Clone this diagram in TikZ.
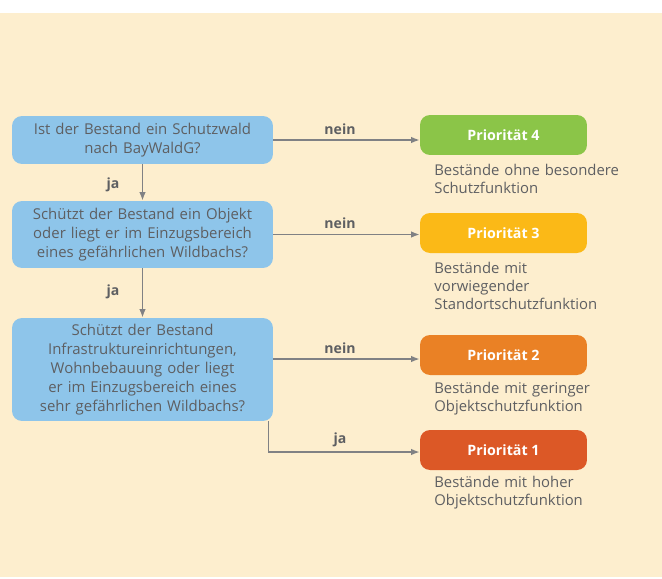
\documentclass[tikz,border=0pt]{standalone}
\usepackage{fontspec}
\setmainfont{Open Sans}
\usetikzlibrary{arrows.meta}
\definecolor{cream}{RGB}{253,238,206}
\definecolor{qblue}{RGB}{142,197,234}
\definecolor{txtgray}{RGB}{94,95,98}
\definecolor{lngray}{RGB}{128,129,132}
\definecolor{prio4}{RGB}{139,197,72}
\definecolor{prio3}{RGB}{251,185,23}
\definecolor{prio2}{RGB}{234,129,37}
\definecolor{prio1}{RGB}{220,88,38}
\tikzset{
  question/.style={fill=qblue, rounded corners=0.2cm, minimum width=5.22cm,
    text width=5cm, align=center, inner sep=0pt, text=txtgray,
    font=\fontsize{8.5}{10.8}\selectfont},
  prio/.style={rounded corners=0.2cm, minimum width=3.34cm, minimum height=0.8cm,
    inner sep=0pt, text=white, font=\fontsize{8.1}{10}\selectfont\bfseries},
  desc/.style={anchor=north west, inner sep=0pt, text width=3.8cm, align=left,
    text=txtgray, font=\fontsize{8.45}{10.3}\selectfont},
  lbl/.style={text=txtgray, font=\fontsize{8}{10}\selectfont\bfseries},
  arr/.style={draw=lngray, line width=0.85pt, -{Latex[length=1.7mm,width=1.3mm]}}
}
\begin{document}
\begin{tikzpicture}[x=0.02cm, y=-0.02cm]
  \fill[white] (0,0) rectangle (662,578);
  \fill[cream] (0,13) rectangle (662,577);

  \node[question, minimum height=0.96cm] (q1) at (142.5,140)
    {Ist der Bestand ein Schutzwald\\nach BayWaldG?};
  \node[question, minimum height=1.34cm] (q2) at (142.5,234.5)
    {Schützt der Bestand ein Objekt\\oder liegt er im Einzugsbereich\\eines gefährlichen Wildbachs?};
  \node[question, minimum height=2.06cm] (q3) at (142.5,369.5)
    {Schützt der Bestand\\Infrastruktureinrichtungen,\\Wohnbebauung oder liegt\\er im Einzugsbereich eines\\sehr gefährlichen Wildbachs?};

  \node[prio, fill=prio4] (p4) at (503.5,135) {Priorität 4};
  \node[prio, fill=prio3] (p3) at (503.5,233) {Priorität 3};
  \node[prio, fill=prio2] (p2) at (503.5,355) {Priorität 2};
  \node[prio, fill=prio1] (p1) at (503.5,450) {Priorität 1};

  \node[desc] (d4) at (434,164) {Bestände ohne besondere\\Schutzfunktion};
  \node[desc] (d3) at (434,262) {Bestände mit\\vorwiegender\\Standortschutzfunktion};
  \node[desc] (d2) at (434,382) {Bestände mit geringer\\Objektschutzfunktion};
  \node[desc] (d1) at (434,476) {Bestände mit hoher\\Objektschutzfunktion};

  \draw[arr] (q1) -- (q2);
  \draw[arr] (q2) -- (q3);
  \node[lbl] (ja1) at (113,185) {ja};
  \node[lbl] (ja2) at (113,292) {ja};

  \draw[arr] (q1.east) -- (q1.east -| p4.west);
  \draw[arr] (q2.east) -- (q2.east -| p3.west);
  \draw[arr] ([yshift=-0.08cm]p2.west -| q3.east) -- ([yshift=-0.08cm]p2.west);
  \draw[arr] ([xshift=-0.1cm]q3.south east) |- ([yshift=-0.04cm]p1.west);
  \node[lbl] (nein4) at (340,129) {nein};
  \node[lbl] (nein3) at (340,223) {nein};
  \node[lbl] (nein2) at (340,348) {nein};
  \node[lbl] (ja3) at (340,440) {ja};
\end{tikzpicture}
\end{document}
